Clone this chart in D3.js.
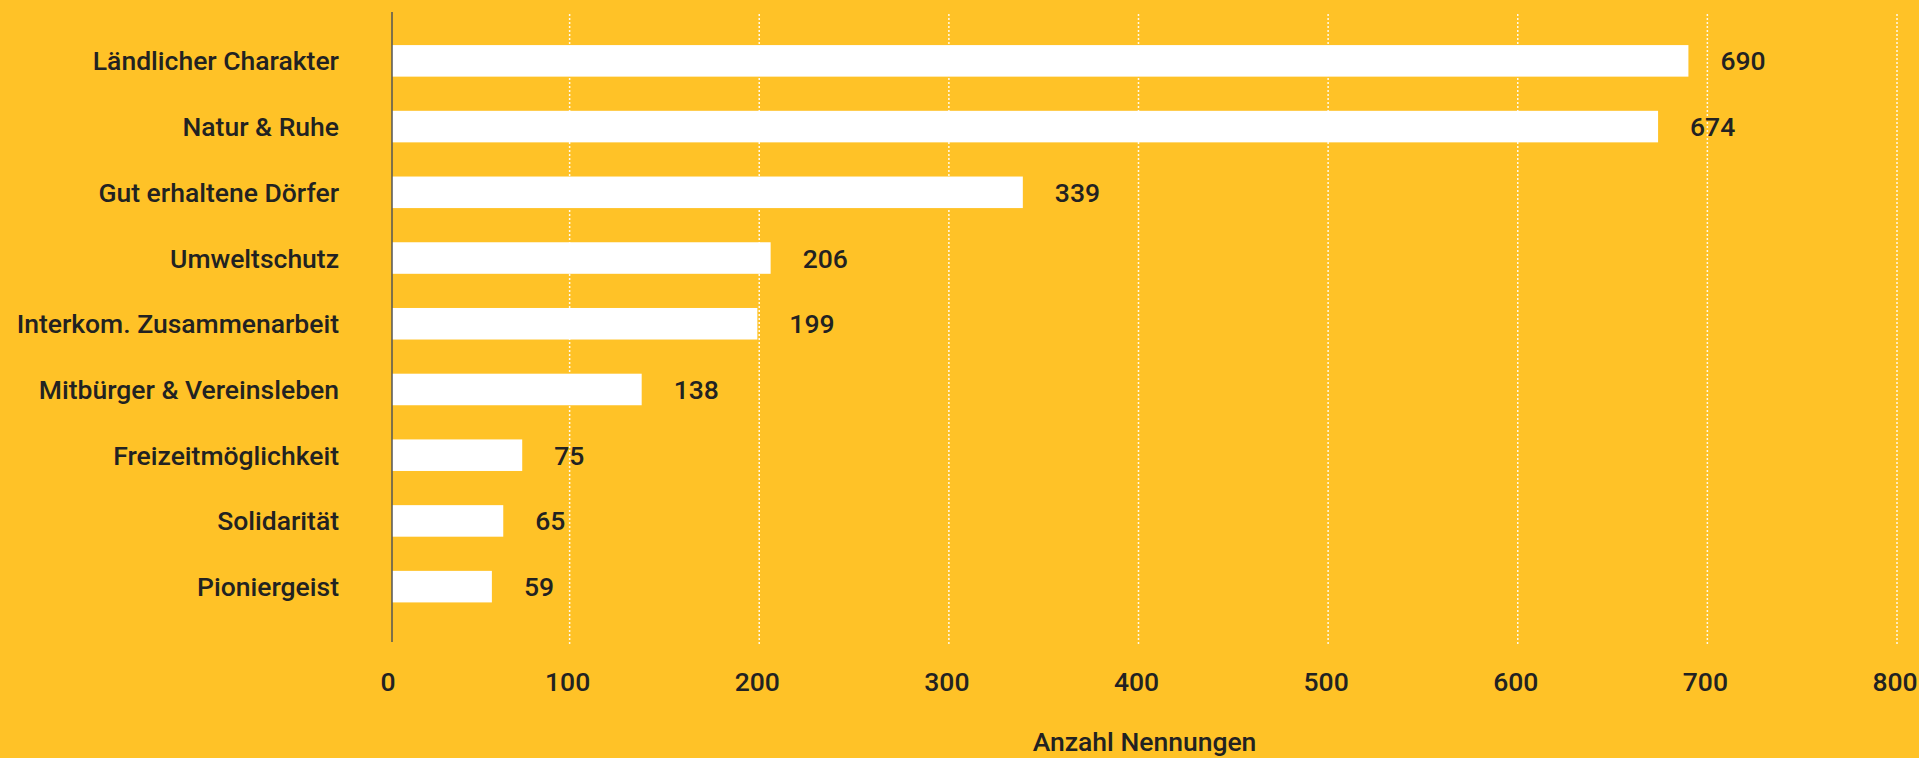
<!DOCTYPE html>
<html>
<head>
<meta charset="utf-8">
<script src="https://cdn.jsdelivr.net/npm/d3@7"></script>
<style>
  html, body { margin: 0; padding: 0; background: #FFC227; }
  svg { display: block; }
  text { font-family: Roboto, "Noto Sans", sans-serif; fill: #222; }
</style>
</head>
<body>
<svg id="chart" width="1919" height="758"></svg>
<script>
const categories = [
  "Ländlicher Charakter",
  "Natur & Ruhe",
  "Gut erhaltene Dörfer",
  "Umweltschutz",
  "Interkom. Zusammenarbeit",
  "Mitbürger & Vereinsleben",
  "Freizeitmöglichkeit",
  "Solidarität",
  "Pioniergeist"
];
const values = [690, 674, 339, 206, 199, 138, 75, 65, 59];
const xTicks = [0, 100, 200, 300, 400, 500, 600, 700, 800];
const xTitle = "Anzahl Nennungen";

const W = 1919, H = 758;
const FS = 26.5, FW = 500;
const svg = d3.select("#chart");
svg.append("rect").attr("width", W).attr("height", H).attr("fill", "#FFC227");

const x = d3.scaleLinear().domain([0, 800]).range([380, 1897]);
const y = d3.scaleBand().domain(categories).range([28, 619.5])
  .paddingInner(0.52).paddingOuter(0.26);

const axisGap = 12;
const plotTop = 12, plotBottom = 642;
const x0 = x(0) + axisGap;

// gridlines
svg.append("g").selectAll("line").data(xTicks.filter(d => d > 0)).join("line")
  .attr("x1", d => x(d)).attr("x2", d => x(d))
  .attr("y1", plotTop + 2).attr("y2", plotBottom + 3)
  .attr("stroke", "#fff").attr("stroke-width", 1.5)
  .attr("stroke-dasharray", "2,2").attr("opacity", 0.9);

// bars
svg.append("g").selectAll("rect").data(values).join("rect")
  .attr("x", x0)
  .attr("y", (d, i) => y(categories[i]))
  .attr("width", d => x(d) - x0)
  .attr("height", y.bandwidth())
  .attr("fill", "#fff");

// y axis line
svg.append("line")
  .attr("x1", x0).attr("x2", x0)
  .attr("y1", plotTop).attr("y2", plotBottom)
  .attr("stroke", "#555").attr("stroke-width", 1.5);

// category labels
svg.append("g").selectAll("text").data(categories).join("text")
  .attr("x", x0 - 53)
  .attr("y", d => y(d) + y.bandwidth() / 2)
  .attr("dy", "0.36em")
  .attr("text-anchor", "end")
  .attr("font-size", FS)
  .attr("font-weight", FW)
  .text(d => d);

// value labels
svg.append("g").selectAll("text").data(values).join("text")
  .attr("x", d => x(d) + 32)
  .attr("y", (d, i) => y(categories[i]) + y.bandwidth() / 2)
  .attr("dy", "0.36em")
  .attr("font-size", FS)
  .attr("font-weight", FW)
  .text(d => d);

// x tick labels
svg.append("g").selectAll("text").data(xTicks).join("text")
  .attr("x", d => x(d) + (d === 0 ? 8 : -2))
  .attr("y", 691)
  .attr("text-anchor", "middle")
  .attr("font-size", FS)
  .attr("font-weight", FW)
  .text(d => d);

// x axis title
svg.append("text")
  .attr("x", (x0 + x(800)) / 2)
  .attr("y", 751)
  .attr("text-anchor", "middle")
  .attr("font-size", FS)
  .attr("font-weight", FW)
  .text(xTitle);
</script>
</body>
</html>
